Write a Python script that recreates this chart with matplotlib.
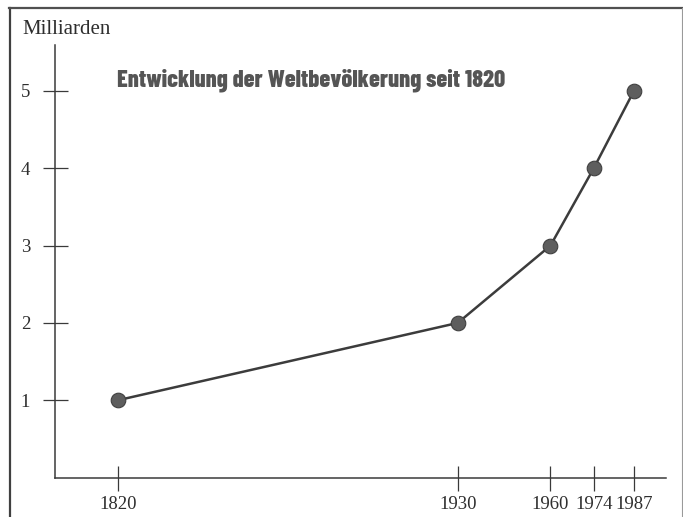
import matplotlib
matplotlib.use("Agg")
import matplotlib.pyplot as plt
from matplotlib.lines import Line2D

## Data
years = [1820, 1930, 1960, 1974, 1987]
population = [1, 2, 3, 4, 5]
y_ticks = [1, 2, 3, 4, 5]
title = "Entwicklung der Weltbevölkerung seit 1820"
y_label = "Milliarden"

W, H = 683, 517
fig = plt.figure(figsize=(W / 100, H / 100), dpi=100)
fig.patch.set_facecolor("white")

## Axes placed to match the scan
ax = fig.add_axes([55 / W, 39.5 / H, 611 / W, 432.5 / H])
ax.set_xlim(1799.6, 1997.4)
ax.set_ylim(0, 5.595)

ax.plot(years, population, color="#3c3c3c", lw=1.8, zorder=2)
ax.plot(years, population, "o", ms=10.5, mfc="#5e5e5e", mec="#404040", mew=0.8, zorder=3)

for side in ["top", "right"]:
    ax.spines[side].set_visible(False)
for side in ["left", "bottom"]:
    ax.spines[side].set_color("#3a3a3a")
    ax.spines[side].set_linewidth(1.1)

ax.set_xticks(years)
ax.set_yticks(y_ticks)
ax.set_xticklabels([str(y) for y in years])
ax.set_yticklabels([str(v) for v in y_ticks])
ax.tick_params(axis="both", direction="inout", length=18, width=0.9,
               color="#3a3a3a", labelcolor="#2e2e2e", labelsize=13.5)
ax.tick_params(axis="y", pad=9)
ax.tick_params(axis="x", pad=4)
for lab in ax.get_xticklabels() + ax.get_yticklabels():
    lab.set_family("Liberation Serif")

fig.text(22 / W, 1 - 33.5 / H, y_label, family="Liberation Serif", fontsize=15,
         color="#2e2e2e", ha="left", va="baseline")

fig.text(311.5 / W, 1 - 80 / H, title, family="Barlow Condensed", fontweight=800,
         fontsize=17.5, color="#555555", ha="center", va="center")

## Scan frame
fig.add_artist(Line2D([9.5 / W, 9.5 / W], [0, 1 - 8 / H], transform=fig.transFigure,
                      color="#404040", lw=1.6))
fig.add_artist(Line2D([9 / W, 682 / W], [1 - 8 / H, 1 - 8 / H], transform=fig.transFigure,
                      color="#505050", lw=1.6))
fig.add_artist(Line2D([681.5 / W, 681.5 / W], [0, 1 - 8 / H], transform=fig.transFigure,
                      color="#9a9a9a", lw=0.8))

fig.savefig("out.png", dpi=100)
